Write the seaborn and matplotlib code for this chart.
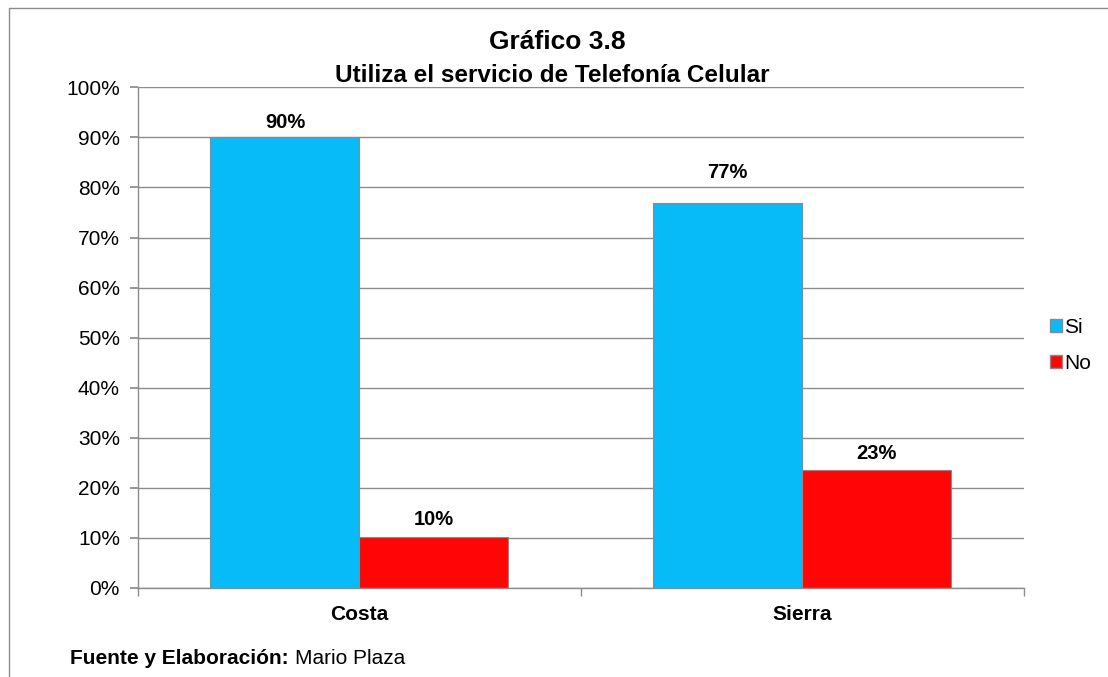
import pandas as pd
import matplotlib.pyplot as plt
import seaborn as sns
from matplotlib.lines import Line2D
from matplotlib.patches import Patch
from matplotlib.ticker import PercentFormatter

# --- data ---
regiones = ['Costa', 'Sierra']
si_vals = [90.1, 76.9]
no_vals = [10.2, 23.5]
etiquetas_si = ['90%', '77%']
etiquetas_no = ['10%', '23%']

df = pd.DataFrame({
    'Region': regiones * 2,
    'Respuesta': ['Si'] * len(regiones) + ['No'] * len(regiones),
    'Valor': si_vals + no_vals,
})

colores = {'Si': '#06BBF8', 'No': '#FF0505'}

sns.set_theme(style="white")
plt.rcParams['font.family'] = ['Liberation Sans', 'DejaVu Sans']
plt.rcParams['text.color'] = 'black'
plt.rcParams['xtick.color'] = 'black'
plt.rcParams['ytick.color'] = 'black'

fig = plt.figure(figsize=(11.08, 6.77), dpi=100)
ax = fig.add_axes([0.1245, 0.1315, 0.7995, 0.7395])

sns.barplot(data=df, x='Region', y='Valor', hue='Respuesta', palette=colores,
            hue_order=['Si', 'No'], width=0.673, ax=ax, legend=False,
            edgecolor='#8a8a8a', linewidth=0.8, saturation=1)

# data labels
txt_si = ax.bar_label(ax.containers[0], labels=etiquetas_si, padding=3.5,
                      fontsize=14.5, fontweight='bold', color='black')
ax.bar_label(ax.containers[1], labels=etiquetas_no, padding=5.5,
             fontsize=14.5, fontweight='bold', color='black')
# the 77% label sits above the 80% gridline in the original
x0, y0 = txt_si[1].xyann
txt_si[1].xyann = (x0, y0 + 11.5)

ax.set_ylim(0, 100)
ax.set_xlim(-0.5, 1.5)
ax.set_yticks(range(0, 101, 10))
ax.yaxis.set_major_formatter(PercentFormatter(decimals=0))
ax.set_xlabel('')
ax.set_ylabel('')
ax.grid(axis='y', color='#8c8c8c', linewidth=1)
ax.set_axisbelow(True)

for s in ['top', 'right']:
    ax.spines[s].set_visible(False)
for s in ['left', 'bottom']:
    ax.spines[s].set_color('#8c8c8c')
    ax.spines[s].set_linewidth(1)

ax.tick_params(axis='y', left=True, length=6, color='#8c8c8c', labelcolor='black', labelsize=15, pad=7)
ax.tick_params(axis='x', bottom=False, labelcolor='black', labelsize=15, pad=6)
for t in ax.get_xticklabels():
    t.set_fontweight('bold')

# category boundary ticks on the x axis
ax.set_xticks([-0.5, 0.5, 1.5], minor=True)
ax.tick_params(axis='x', which='minor', bottom=True, length=6, color='#8c8c8c')

# titles
fig.text(0.503, 0.938, 'Gráfico 3.8', ha='center', va='center', fontsize=19, fontweight='bold')
fig.text(0.498, 0.889, 'Utiliza el servicio de Telefonía Celular', ha='center', va='center',
         fontsize=17.5, fontweight='bold')

# legend
handles = [Patch(facecolor=colores['Si'], edgecolor='#8a8a8a'),
           Patch(facecolor=colores['No'], edgecolor='#8a8a8a')]
fig.legend(handles, ['Si', 'No'], loc='center left', bbox_to_anchor=(0.938, 0.49),
           frameon=False, fontsize=15, handlelength=0.6, handleheight=0.6,
           handletextpad=0.1, labelspacing=0.8, borderpad=0)

# footer
fig.text(70 / 1108, 1 - 659 / 677, 'Fuente y Elaboración:', ha='left', va='center',
         fontsize=15, fontweight='bold')
fig.text(295 / 1108, 1 - 659 / 677, 'Mario Plaza', ha='left', va='center', fontsize=15)

# outer border (top and left edges)
fig.add_artist(Line2D([9 / 1108, 1], [1 - 8 / 677, 1 - 8 / 677], color='#8c8c8c', linewidth=1))
fig.add_artist(Line2D([9 / 1108, 9 / 1108], [0, 1 - 8 / 677], color='#8c8c8c', linewidth=1))

fig.savefig('out.png', dpi=100)
